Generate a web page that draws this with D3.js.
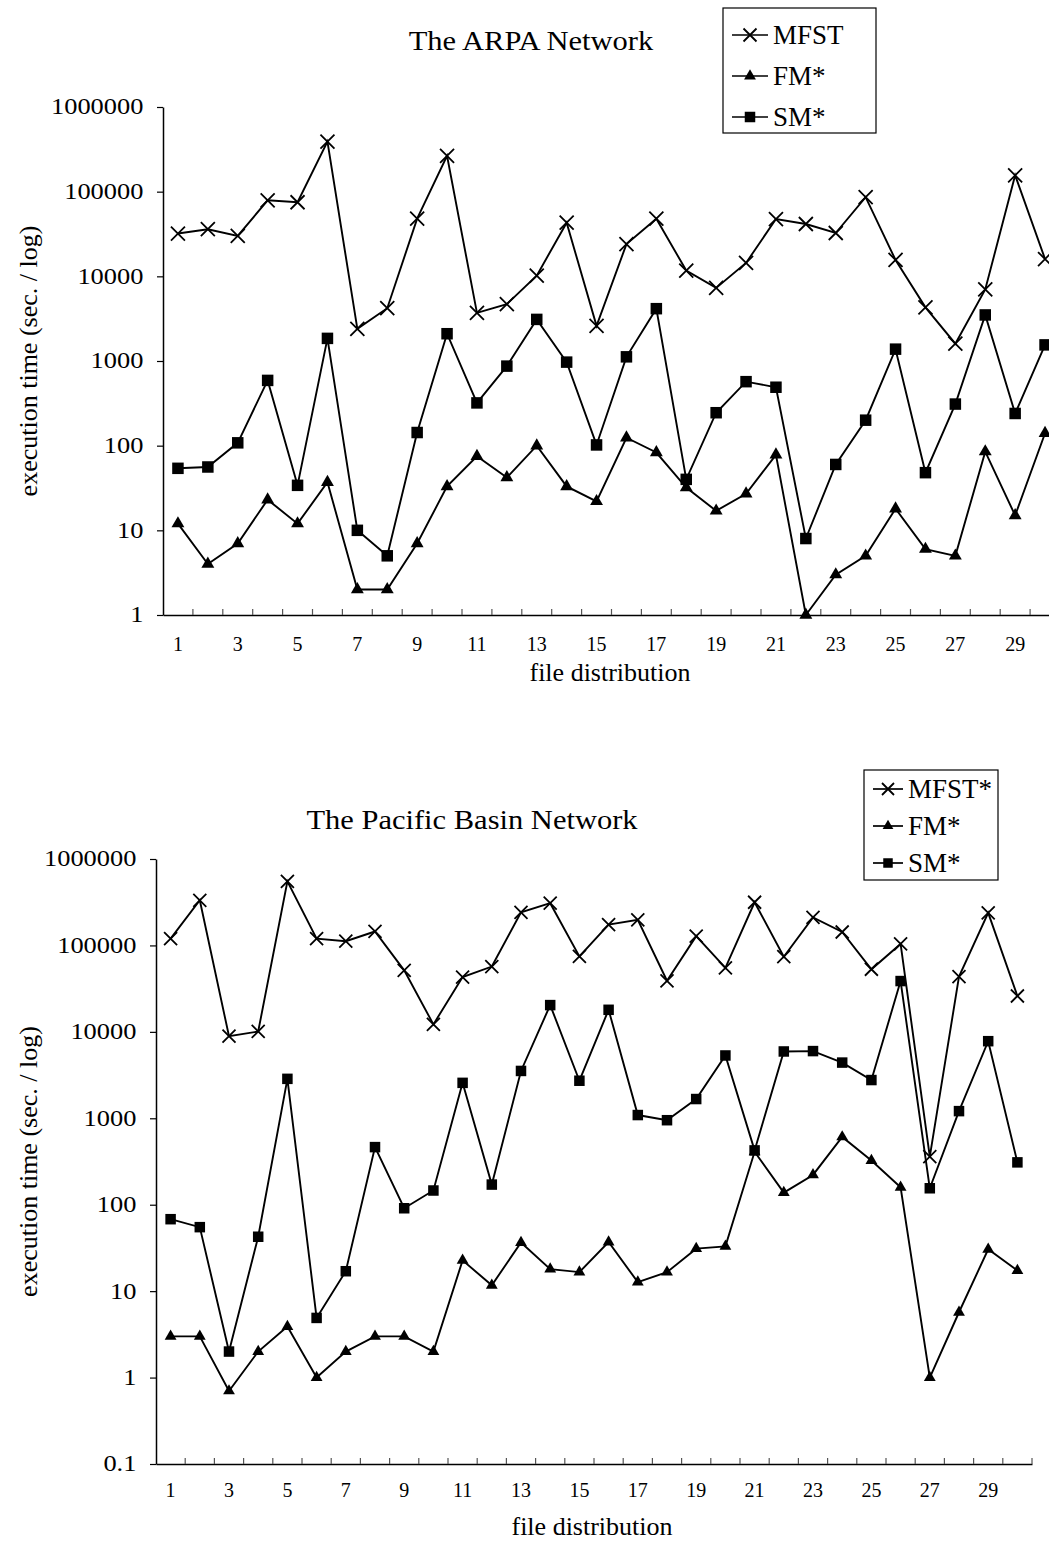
<!DOCTYPE html>
<html lang="en">
<head>
<meta charset="UTF-8">
<title>Execution time - ARPA and Pacific Basin networks</title>
<style>
  body { margin: 0; background: #fff; }
  svg text { font-family: "Liberation Serif", "Times New Roman", serif; fill: #000; }
  .series-line { fill: none; stroke: #000; stroke-width: 1.9px; }
  .axis .domain { stroke: #000; stroke-width: 1.5px; }
  .axis .tick line { stroke: #000; stroke-width: 1.2px; }
  .x-tick { stroke: #555; stroke-width: 1.2px; }
  .legend-box { fill: #fff; stroke: #000; stroke-width: 1.2px; }
</style>
</head>
<body>
<svg id="chart" width="1049" height="1541"></svg>
<script src="https://d3js.org/d3.v7.min.js"></script>
<script>
// --- Data ---
const categories = [1, 2, 3, 4, 5, 6, 7, 8, 9, 10, 11, 12, 13, 14, 15,
                    16, 17, 18, 19, 20, 21, 22, 23, 24, 25, 26, 27, 28, 29, 30];
const xTickLabels = [1, 3, 5, 7, 9, 11, 13, 15, 17, 19, 21, 23, 25, 27, 29];
const arpaYTicks = [1, 10, 100, 1000, 10000, 100000, 1000000];
const pacificYTicks = [0.1, 1, 10, 100, 1000, 10000, 100000, 1000000];

// The ARPA Network
const arpaMFST = [32000, 36000, 30000, 79000, 75000, 390000, 2400, 4200, 48000, 265000,
                  3700, 4700, 10200, 43000, 2600, 24000, 48000, 11700, 7300, 14400,
                  47500, 41500, 32500, 86000, 15600, 4300, 1600, 7000, 156000, 16000];
const arpaFM = [12, 4, 7, 23, 12, 37, 2, 2, 7, 33,
                75, 42, 100, 33, 22, 124, 83, 32, 17, 27,
                78, 1, 3, 5, 18, 6, 5, 85, 15, 140];
const arpaSM = [54, 56, 108, 590, 34, 1850, 10, 5, 143, 2100,
                320, 870, 3100, 970, 102, 1120, 4150, 40, 245, 570,
                490, 8, 60, 200, 1380, 48, 310, 3500, 240, 1550];

// The Pacific Basin Network
const pacificMFST = [120000, 333000, 8900, 10100, 550000, 120000, 112000, 145000, 51500, 12200,
                     43000, 57000, 241000, 308000, 74600, 174000, 198000, 39000, 128000, 55000,
                     316000, 74000, 211000, 143000, 53000, 104000, 360, 43600, 238000, 26000];
const pacificFM = [3, 3, 0.7, 2, 3.9, 1, 2, 3, 3, 2,
                   22.7, 11.7, 36.5, 18, 16.6, 37, 12.7, 16.6, 31, 33,
                   410, 138, 221, 608, 324, 159, 1, 5.7, 30.5, 17.3];
const pacificSM = [68, 55, 2, 42.6, 2860, 4.9, 17, 464, 91, 146,
                   2570, 171, 3530, 20400, 2720, 18000, 1090, 950, 1670, 5330,
                   425, 5930, 5990, 4410, 2770, 38700, 155, 1210, 7800, 309];

const svg = d3.select("#chart");

// marker shapes
function drawMarker(sel, type, size) {
    if (type === "x") {
        const h = size / 2;
        sel.append("path")
            .attr("d", `M${-h},${-h}L${h},${h}M${-h},${h}L${h},${-h}`)
            .attr("stroke", "#000").attr("stroke-width", 1.8).attr("fill", "none");
    } else if (type === "square") {
        sel.append("rect")
            .attr("x", -size / 2).attr("y", -size / 2)
            .attr("width", size).attr("height", size)
            .attr("fill", "#000");
    } else {
        sel.append("path")
            .attr("d", d3.symbol(d3.symbolTriangle, size * size * 0.5)())
            .attr("fill", "#000");
    }
}

function drawChart(cfg) {
    const g = svg.append("g");

    const x = d3.scaleBand()
        .domain(categories)
        .range([cfg.left, cfg.left + cfg.band * categories.length]);
    const y = d3.scaleLog()
        .domain([cfg.yTicks[0], cfg.yTicks[cfg.yTicks.length - 1]])
        .range([cfg.bottom, cfg.top]);

    // y axis
    const yAxis = d3.axisLeft(y)
        .tickValues(cfg.yTicks)
        .tickFormat(d => String(d))
        .tickSize(6)
        .tickSizeOuter(0);
    const yg = g.append("g")
        .attr("class", "axis")
        .attr("transform", `translate(${cfg.left},0)`)
        .call(yAxis);
    yg.selectAll(".tick text")
        .attr("x", -17)
        .attr("dy", "0.3em")
        .attr("transform", "scale(1.15,1)")
        .style("font-size", "23px");

    // x axis: labels on odd categories, ticks between categories
    const xAxis = d3.axisBottom(x)
        .tickValues(xTickLabels)
        .tickSize(0)
        .tickSizeOuter(0)
        .tickPadding(cfg.xPad);
    const xg = g.append("g")
        .attr("class", "axis")
        .attr("transform", `translate(0,${cfg.bottom})`)
        .call(xAxis);
    xg.selectAll(".tick text").style("font-size", "20px");

    g.selectAll(".x-tick")
        .data(categories)
        .join("line")
        .attr("class", "x-tick")
        .attr("x1", d => x(d) + x.bandwidth())
        .attr("x2", d => x(d) + x.bandwidth())
        .attr("y1", cfg.bottom)
        .attr("y2", cfg.bottom - 6);

    // series
    const line = d3.line()
        .x((d, i) => x(categories[i]) + x.bandwidth() / 2)
        .y(d => y(d));

    cfg.series.forEach(s => {
        g.append("path")
            .datum(s.values)
            .attr("class", "series-line")
            .attr("d", line);
        g.selectAll(null)
            .data(s.values)
            .join("g")
            .attr("transform", (d, i) => `translate(${x(categories[i]) + x.bandwidth() / 2},${y(d)})`)
            .each(function () { drawMarker(d3.select(this), s.marker, s.size); });
    });

    // titles
    g.append("text")
        .attr("transform", `translate(${cfg.titleX},${cfg.titleY}) scale(1.13,1)`)
        .attr("text-anchor", "middle")
        .style("font-size", "27px")
        .text(cfg.title);

    g.append("text")
        .attr("transform", `translate(${cfg.xTitleX},${cfg.xTitleY})`)
        .attr("text-anchor", "middle")
        .style("font-size", "26px")
        .text("file distribution");

    g.append("text")
        .attr("transform", `translate(28,${(cfg.top + cfg.bottom) / 2}) rotate(-90)`)
        .attr("text-anchor", "middle")
        .attr("dy", "0.35em")
        .style("font-size", "26px")
        .text("execution time (sec. / log)");

    // legend
    const lg = g.append("g");
    lg.append("rect")
        .attr("class", "legend-box")
        .attr("x", cfg.legend.x).attr("y", cfg.legend.y)
        .attr("width", cfg.legend.w).attr("height", cfg.legend.h);
    cfg.series.forEach((s, i) => {
        const row = lg.append("g")
            .attr("transform", `translate(${cfg.legend.x + 9},${cfg.legend.y + cfg.legend.first + i * cfg.legend.step})`);
        row.append("line")
            .attr("x1", 0).attr("x2", cfg.legend.lineW)
            .attr("stroke", "#000").attr("stroke-width", 1.7);
        const m = row.append("g").attr("transform", `translate(${cfg.legend.lineW / 2},0)`);
        drawMarker(m, s.marker, s.size - 1);
        row.append("text")
            .attr("x", cfg.legend.lineW + 5)
            .attr("dy", "0.35em")
            .style("font-size", "27px")
            .text(s.name);
    });
}

drawChart({
    title: "The ARPA Network",
    titleX: 531, titleY: 50,
    left: 163, band: 29.9, top: 107, bottom: 615,
    yTicks: arpaYTicks,
    xPad: 22,
    xTitleX: 610, xTitleY: 681,
    legend: { x: 723, y: 8, w: 153, h: 125, first: 27, step: 41, lineW: 36 },
    series: [
        { name: "MFST", values: arpaMFST, marker: "x", size: 14 },
        { name: "FM*", values: arpaFM, marker: "triangle", size: 12 },
        { name: "SM*", values: arpaSM, marker: "square", size: 11.5 }
    ]
});

drawChart({
    title: "The Pacific Basin Network",
    titleX: 472, titleY: 829,
    left: 156, band: 29.2, top: 859, bottom: 1464,
    yTicks: pacificYTicks,
    xPad: 19,
    xTitleX: 592, xTitleY: 1535,
    legend: { x: 864, y: 770, w: 134, h: 110, first: 19, step: 37, lineW: 30 },
    series: [
        { name: "MFST*", values: pacificMFST, marker: "x", size: 13 },
        { name: "FM*", values: pacificFM, marker: "triangle", size: 11 },
        { name: "SM*", values: pacificSM, marker: "square", size: 10.5 }
    ]
});
</script>
</body>
</html>
